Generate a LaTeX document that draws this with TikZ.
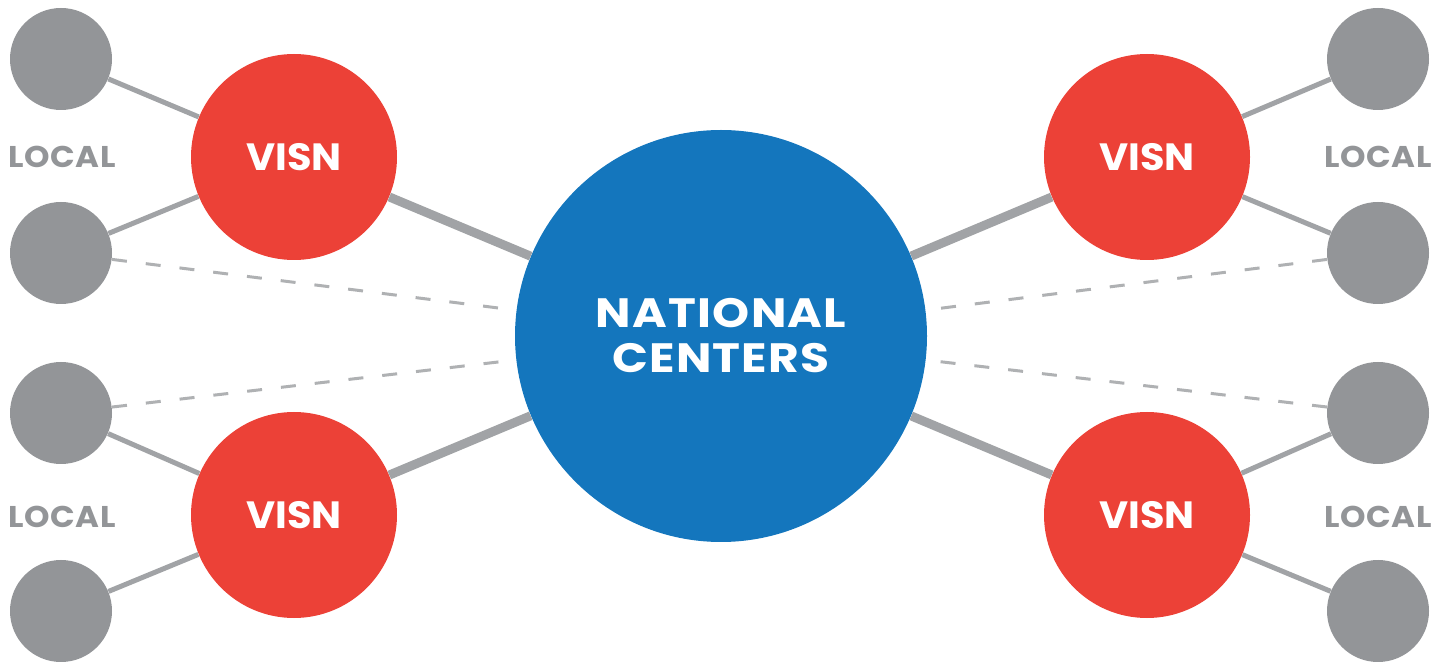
\documentclass[tikz,border=0pt]{standalone}
\usepackage{fontspec}
\setmainfont{Poppins}
\usepackage{tikz}

\definecolor{natblue}{HTML}{1476BD}
\definecolor{visnred}{HTML}{EC4137}
\definecolor{localgray}{HTML}{939598}
\definecolor{linkgray}{HTML}{A1A3A6}

\tikzset{
  national/.style={circle, fill=natblue, minimum size=206pt, inner sep=0pt,
    text=white, align=center, font=\bfseries\fontsize{20.5}{22.5}\selectfont\addfontfeatures{FakeStretch=1.15,LetterSpace=3}},
  visn/.style={circle, fill=visnred, minimum size=103pt, inner sep=0pt,
    text=white, font=\bfseries\fontsize{19}{20}\selectfont\addfontfeatures{FakeStretch=1.05}},
  local/.style={circle, fill=localgray, minimum size=51pt, inner sep=0pt},
  locallabel/.style={text=localgray, inner sep=0pt, font=\bfseries\fontsize{15}{16}\selectfont\addfontfeatures{FakeStretch=1.08,LetterSpace=2}},
  thinlink/.style={draw=linkgray, line width=2.5pt},
  thicklink/.style={draw=linkgray, line width=4.5pt},
  dashlink/.style={draw=linkgray!85, line width=1.5pt, dash pattern=on 7.5pt off 9.5pt},
}

\begin{document}
\begin{tikzpicture}[x=0.5pt, y=-0.5pt]
\useasboundingbox (0,0) rectangle (1441,662);

% centre
\node[national] (nc) at (721,336) {NATIONAL\\CENTERS};

% regional networks
\node[visn] (visn_lt) at (294,157) {VISN};
\node[visn] (visn_lb) at (294,515) {VISN};
\node[visn] (visn_rt) at (1147,157) {VISN};
\node[visn] (visn_rb) at (1147,515) {VISN};

% local sites, left
\node[local] (loc_l1) at (61,59) {};
\node[local] (loc_l2) at (61,253) {};
\node[local] (loc_l3) at (61,413) {};
\node[local] (loc_l4) at (61,611) {};
% local sites, right
\node[local] (loc_r1) at (1378,59) {};
\node[local] (loc_r2) at (1378,253) {};
\node[local] (loc_r3) at (1378,413) {};
\node[local] (loc_r4) at (1378,611) {};

\node[locallabel] (lab_lt) at (62,157) {LOCAL};
\node[locallabel] (lab_lb) at (62,517) {LOCAL};
\node[locallabel] (lab_rt) at (1378,157) {LOCAL};
\node[locallabel] (lab_rb) at (1378,517) {LOCAL};

% local -- VISN
\draw[thinlink] (loc_l1) -- (visn_lt);
\draw[thinlink] (loc_l2) -- (visn_lt);
\draw[thinlink] (loc_l3) -- (visn_lb);
\draw[thinlink] (loc_l4) -- (visn_lb);
\draw[thinlink] (loc_r1) -- (visn_rt);
\draw[thinlink] (loc_r2) -- (visn_rt);
\draw[thinlink] (loc_r3) -- (visn_rb);
\draw[thinlink] (loc_r4) -- (visn_rb);

% VISN -- national
\draw[thicklink] (visn_lt) -- (nc);
\draw[thicklink] (visn_lb) -- (nc);
\draw[thicklink] (visn_rt) -- (nc);
\draw[thicklink] (visn_rb) -- (nc);

% local straight to national
\draw[dashlink] (loc_l2) -- (nc);
\draw[dashlink] (loc_l3) -- (nc);
\draw[dashlink] (loc_r2) -- (nc);
\draw[dashlink] (loc_r3) -- (nc);
\end{tikzpicture}
\end{document}
